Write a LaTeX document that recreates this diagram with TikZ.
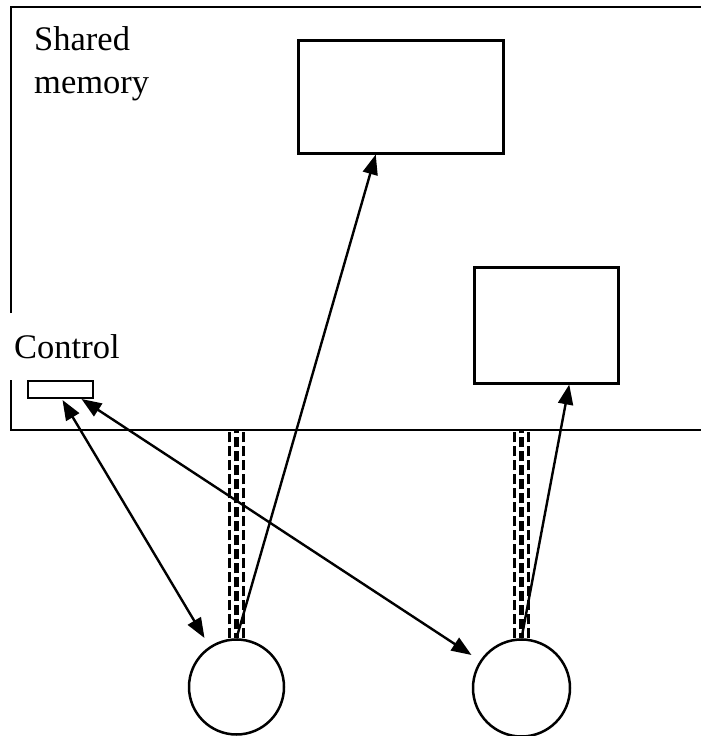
\documentclass[tikz,border=0pt]{standalone}
\usepackage{fontspec}
\setmainfont{Liberation Serif}
\usetikzlibrary{arrows.meta}
\begin{document}
\begin{tikzpicture}[x=1pt,y=-1pt,
  line width=2.4pt,
  box/.style={draw,line width=2.5pt,rectangle,inner sep=0pt,anchor=north west},
  proc/.style={draw,line width=2.5pt,circle,inner sep=0pt,minimum size=#1},
  link/.style={line width=2.4pt,-{Triangle[length=20pt,width=15pt]}},
  duplex/.style={line width=2.4pt,{Triangle[length=20pt,width=15pt]}-{Triangle[length=20pt,width=15pt]}},
  rail/.style={line width=2.5pt,dash pattern=on 10pt off 4pt},
  railmid/.style={line width=4.5pt,dash pattern=on 10pt off 4pt,dash phase=5pt},
  lbl/.style={inner sep=0pt,anchor=base west,font=\fontsize{34.5}{43}\selectfont,align=left}]
\useasboundingbox (0,0) rectangle (701,736);

% shared memory frame
\draw[line width=2.5pt] (11,313) -- (11,7) -- (701,7);
\draw[line width=2.5pt] (11,380) -- (11,430) -- (701,430);
\coordinate (floor) at (11,430);

% labels (base anchor sits on the last line)
\node[lbl] (shm) at (33,93) {Shared\\memory};
\node[lbl] (ctl) at (13,358) {Control};

% memory blocks and control word
\node[box,minimum width=205pt,minimum height=113pt] (m1) at (297,39) {};
\node[box,minimum width=144pt,minimum height=116pt] (m2) at (473,266) {};
\node[box,line width=2pt,minimum width=65pt,minimum height=17pt] (ctrl) at (27,380) {};

% processors
\node[proc=95pt] (c1) at (236.5,687) {};
\node[proc=97pt] (c2) at (521.5,688) {};

% private links from processors up to the shared region
\foreach \p in {c1,c2}{
  \draw[rail] ([shift={(-7,0)}]\p.north) -- ([shift={(-7,0)}]\p.north |- floor);
  \draw[rail] ([shift={(7,0)}]\p.north) -- ([shift={(7,0)}]\p.north |- floor);
  \draw[railmid] (\p.north) -- (\p.north |- floor);
}

% accesses
\draw[link] (c1.north) -- ([shift={(-25,0)}]m1.south);
\draw[link] (c2.north) -- ([shift={(23,0)}]m2.south);
\draw[duplex] ([shift={(2,1)}]ctrl.south) -- ([shift={(-32,-49)}]c1.center);
\draw[duplex] ([shift={(21,0)}]ctrl.south) -- ([shift={(-50,-33)}]c2.center);
\end{tikzpicture}
\end{document}
